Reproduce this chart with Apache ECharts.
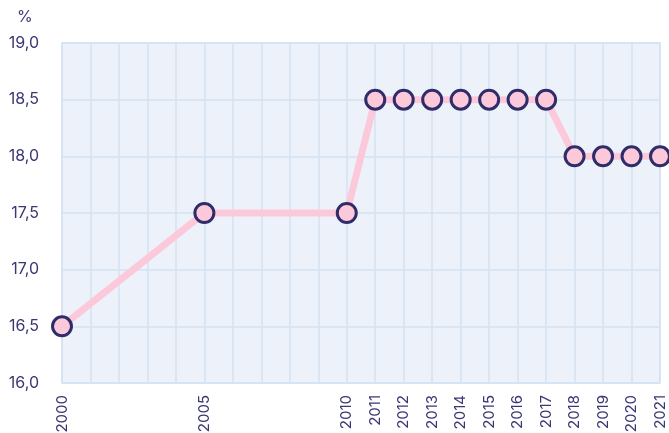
<!DOCTYPE html>
<html>
<head>
<meta charset="utf-8">
<script src="https://cdn.jsdelivr.net/npm/echarts@6/dist/echarts.min.js"></script>
<style>
html,body{margin:0;padding:0;background:#fff;}
#c{width:669px;height:433px;}
</style>
</head>
<body>
<div id="c"></div>
<script>
var years = ['2000','2001','2002','2003','2004','2005','2006','2007','2008','2009','2010','2011','2012','2013','2014','2015','2016','2017','2018','2019','2020','2021'];
var labeledYears = ['2000','2005','2010','2011','2012','2013','2014','2015','2016','2017','2018','2019','2020','2021'];
var values = [16.5,null,null,null,null,17.5,null,null,null,null,17.5,18.5,18.5,18.5,18.5,18.5,18.5,18.5,18.0,18.0,18.0,18.0];
var yMin = 16, yMax = 19, yStep = 0.5;
var unitLabel = '%';

var textColor = '#3a3774';
var chart = echarts.init(document.getElementById('c'), null, {renderer:'canvas'});
chart.setOption({
  animation:false,
  backgroundColor:'#ffffff',
  textStyle:{fontFamily:'Inter'},
  graphic:[{type:'text', left:17, top:9, style:{text:unitLabel, fill:textColor, font:'16px Inter'}}],
  grid:{left:62, right:9, top:43, bottom:50, outerBoundsMode:'none', containLabel:false, show:true, backgroundColor:'#edf2fa', borderColor:'#d5e2f2', borderWidth:1.5},
  xAxis:{
    type:'category', data:years, boundaryGap:false,
    axisLine:{show:false}, axisTick:{show:false},
    splitLine:{show:true, interval:0, lineStyle:{color:'#d5e2f2', width:1.5}},
    axisLabel:{
      interval:0, rotate:90, margin:12, color:textColor, fontSize:15, fontFamily:'Inter',
      formatter:function(v){return labeledYears.indexOf(v)>=0 ? v : '';}
    }
  },
  yAxis:{
    type:'value', min:yMin, max:yMax, interval:yStep,
    axisLine:{show:false}, axisTick:{show:false},
    splitLine:{show:true, lineStyle:{color:'#d5e2f2', width:1.5}},
    axisLabel:{margin:23, color:textColor, fontSize:16, fontFamily:'Inter',
      formatter:function(v){return v.toFixed(1).replace('.', ',');}}
  },
  series:[{
    type:'line', data:values, connectNulls:true,
    lineStyle:{color:'#fbc9d9', width:7},
    symbol:'circle', symbolSize:19,
    itemStyle:{color:'#fbc9d9', borderColor:'#2f2c6a', borderWidth:3},
    emphasis:{disabled:true}
  }]
});
</script>
</body>
</html>
